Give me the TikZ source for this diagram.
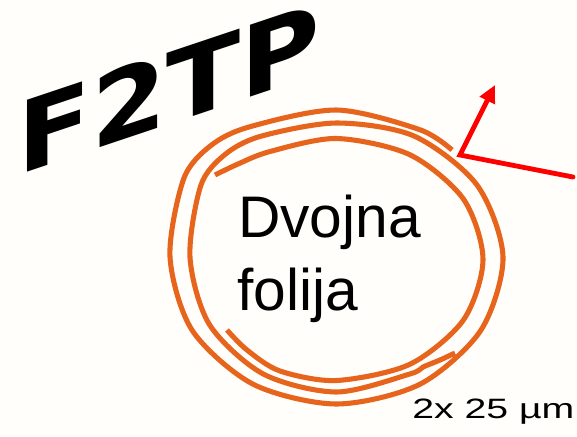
\documentclass[tikz,border=0pt]{standalone}
\usepackage{fontspec}
\setmainfont{Liberation Sans}
\newfontfamily\logofont{DejaVu Sans}
\usetikzlibrary{arrows.meta}
\definecolor{foil}{RGB}{230,100,28}
\definecolor{paper}{RGB}{255,254,250}

\begin{document}
\begin{tikzpicture}[x=0.75pt,y=-0.75pt,
	foilline/.style={draw=foil,line width=3.8pt,line join=round},
	redline/.style={draw=red,line width=3.6pt,line cap=round},
	bigtext/.style={inner sep=0pt,anchor=base west,font=\fontsize{44}{55}\selectfont}]
	\fill[paper] (0,0) rectangle (577,436);
	\useasboundingbox (0,0) rectangle (577,436);
	% inner turn of the foil
	\draw[foilline] plot[smooth] coordinates {(227,330) (247,350) (280,371) (336.5,380.5) (409.8,364.3) (463.4,320) (483,259.5) (463.4,199) (409.8,154.7) (336.5,138.5) (270,151.5) (238,164) (215,175)};
	% outer turns of the foil
	\draw[foilline] plot[smooth] coordinates {(455,353) (440,360) (423,367) (409.8,374) (336.5,392) (263.3,374) (209.6,324.8) (190,257.5) (200.8,185.5) (224.6,154.8) (260.3,136.4) (336.5,123) (414,136) (477,185) (503,257) (480.7,330.5) (419.8,384.3) (336.5,404) (253.3,384.3) (192.3,330.5) (170,257) (183.6,179) (210.5,145.8) (249,127) (336.5,110) (419.8,129.7) (452,150)};
	% red arrow
	\coordinate (tail) at (573,177);
	\coordinate (bend) at (460,155);
	\coordinate (tip) at (495,85);
	\draw[redline,line join=miter,-{Triangle[length=13pt,width=12pt]}] (tail) -- (bend) -- (tip);
	% texts
	\node[inner sep=0pt,anchor=base west,yslant=0.335,xscale=1.1,font=\logofont\bfseries\fontsize{74}{74}\selectfont] (logo) at (17,175.4) {F2TP};
	\node[bigtext] (dvojna) at (238,237) {Dvojna};
	\node[bigtext] (folija) at (237,310) {folija};
	\node[inner sep=0pt,anchor=base west,xscale=1.4,font=\fontsize{21}{21}\selectfont] (size) at (412,418) {2x 25 µm};
\end{tikzpicture}
\end{document}
